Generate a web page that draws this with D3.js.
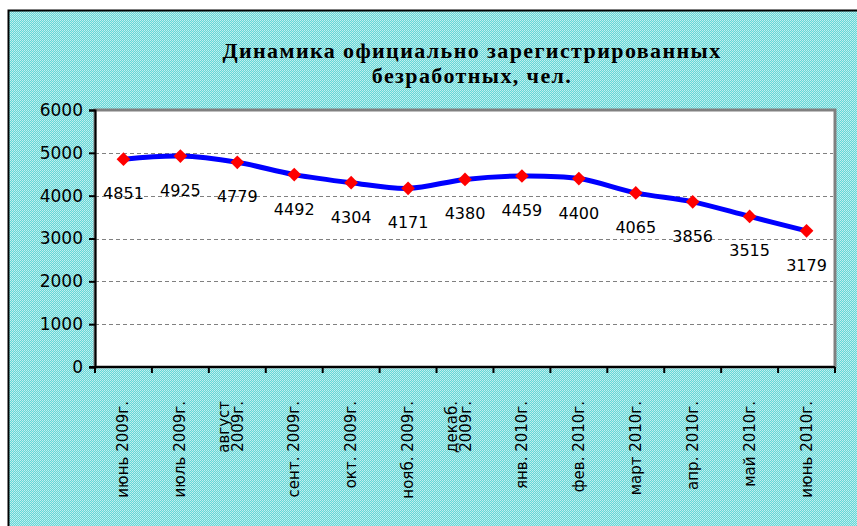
<!DOCTYPE html>
<html>
<head>
<meta charset="utf-8">
<script src="https://cdn.jsdelivr.net/npm/d3@7"></script>
<style>
  body { margin: 0; background: #fff; }
  svg { display: block; }
</style>
</head>
<body>
<svg id="chart"></svg>
<script>
const months = [
  ["июнь 2009г."], ["июль 2009г."], ["август", "2009г."], ["сент. 2009г."],
  ["окт. 2009г."], ["нояб. 2009г."], ["декаб.", "2009г."], ["янв. 2010г."],
  ["фев. 2010г."], ["март 2010г."], ["апр. 2010г."], ["май 2010г."], ["июнь 2010г."]
];
const unemployed = [4851, 4925, 4779, 4492, 4304, 4171, 4380, 4459, 4400, 4065, 3856, 3515, 3179];
const yTicks = [0, 1000, 2000, 3000, 4000, 5000, 6000];
const titleLines = ["Динамика официально зарегистрированных", "безработных, чел."];

const width = 857, height = 526;
const plot = { left: 95, top: 110, right: 835, bottom: 367 };

const svg = d3.select("#chart").attr("width", width).attr("height", height);

// dotted cyan background
const defs = svg.append("defs");
const pat = defs.append("pattern")
  .attr("id", "dots").attr("width", 2).attr("height", 2)
  .attr("patternUnits", "userSpaceOnUse");
pat.append("rect").attr("width", 2).attr("height", 2).attr("fill", "#66d6d6");
pat.append("rect").attr("width", 1).attr("height", 1).attr("fill", "#c4f0f0");
pat.append("rect").attr("x", 1).attr("y", 1).attr("width", 1).attr("height", 1).attr("fill", "#b0ecec");

svg.append("rect")
  .attr("x", 8.5).attr("y", 10.5).attr("width", width + 10).attr("height", height + 10)
  .attr("fill", "url(#dots)").attr("stroke", "#000").attr("stroke-width", 2);

// title
svg.append("text")
  .attr("x", 472).attr("y", 58)
  .attr("text-anchor", "middle")
  .style("font-family", "'Liberation Serif', 'Times New Roman', serif")
  .style("font-weight", "bold").style("font-size", "22px")
  .style("letter-spacing", "1.4px")
  .selectAll("tspan").data(titleLines).join("tspan")
  .attr("x", 472).attr("dy", (d, i) => i ? 25 : 0)
  .text(d => d);

const x = d3.scaleBand().domain(d3.range(months.length))
  .range([plot.left, plot.right]);
const y = d3.scaleLinear().domain([0, 6000]).range([plot.bottom, plot.top]);

// plot area with grey shadow frame
svg.append("rect")
  .attr("x", plot.left).attr("y", plot.top)
  .attr("width", plot.right - plot.left).attr("height", plot.bottom - plot.top)
  .attr("fill", "#fff").attr("stroke", "#808080").attr("stroke-width", 3);

// gridlines
svg.append("g").selectAll("line").data(yTicks.filter(d => d > 0 && d < 6000)).join("line")
  .attr("x1", plot.left).attr("x2", plot.right - 2)
  .attr("y1", d => Math.round(y(d)) + 0.5).attr("y2", d => Math.round(y(d)) + 0.5)
  .attr("stroke", "#808080").attr("stroke-dasharray", "4,3");

// y axis
const yAxis = svg.append("g")
  .attr("transform", `translate(${plot.left},0)`)
  .call(d3.axisLeft(y).tickValues(yTicks).tickSize(6).tickPadding(6).tickFormat(d3.format("d")));
yAxis.selectAll("path, line").attr("stroke", "#000").attr("stroke-width", 2);
yAxis.selectAll("text")
  .style("font-family", "'DejaVu Sans', Verdana, sans-serif")
  .style("font-size", "17px").attr("fill", "#000");

// x axis (ticks between categories)
const xAxisG = svg.append("g").attr("transform", `translate(0,${plot.bottom})`);
xAxisG.append("line").attr("x1", plot.left - 6).attr("x2", plot.right)
  .attr("stroke", "#000").attr("stroke-width", 2);
xAxisG.selectAll("line.tick").data(d3.range(months.length + 1)).join("line")
  .attr("class", "tick")
  .attr("x1", i => plot.left + i * x.step()).attr("x2", i => plot.left + i * x.step())
  .attr("y1", 0).attr("y2", 6).attr("stroke", "#000").attr("stroke-width", 2);

const xl = xAxisG.selectAll("text").data(months).join("text")
  .attr("transform", (d, i) => `translate(${x(i) + x.bandwidth() / 2 + (d.length > 1 ? -8 : 5)},${34}) rotate(-90)`)
  .attr("text-anchor", "end")
  .style("font-family", "'DejaVu Sans', Verdana, sans-serif")
  .style("font-size", "15px").attr("fill", "#000");
xl.selectAll("tspan").data(d => d).join("tspan")
  .attr("x", 0).attr("dy", (d, i) => i ? 14 : 0)
  .text(d => d);

// smoothed line
const line = d3.line()
  .x((d, i) => x(i) + x.bandwidth() / 2)
  .y(d => y(d))
  .curve(d3.curveCatmullRom.alpha(0.5));
svg.append("path").datum(unemployed)
  .attr("d", line).attr("fill", "none")
  .attr("stroke", "#0000ff").attr("stroke-width", 5);

// diamond markers
svg.append("g").selectAll("path").data(unemployed).join("path")
  .attr("transform", (d, i) => `translate(${x(i) + x.bandwidth() / 2},${y(d)})`)
  .attr("d", d3.symbol(d3.symbolDiamond2, 120))
  .attr("fill", "#ff0000");

// value labels
svg.append("g").selectAll("text").data(unemployed).join("text")
  .attr("x", (d, i) => x(i) + x.bandwidth() / 2)
  .attr("y", d => y(d) + 40)
  .attr("text-anchor", "middle")
  .style("font-family", "'DejaVu Sans', Verdana, sans-serif")
  .style("font-size", "16px").attr("fill", "#000")
  .text(d => d);
</script>
</body>
</html>
